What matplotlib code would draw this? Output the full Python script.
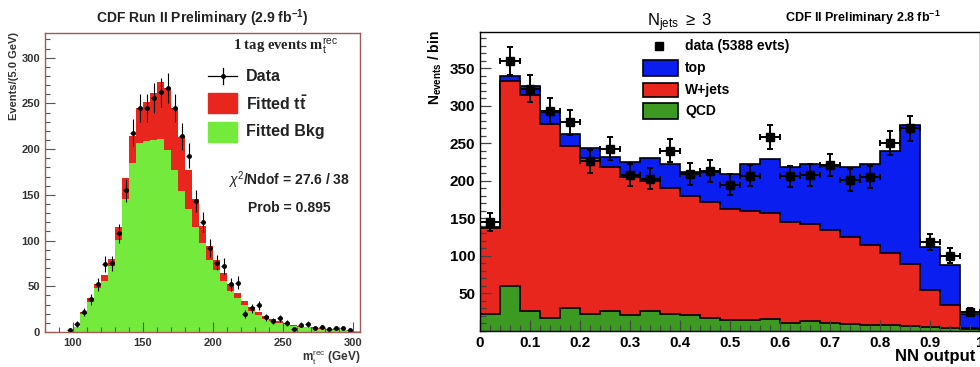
import numpy as np
import matplotlib
matplotlib.use('Agg')
import matplotlib.pyplot as plt
from matplotlib.patches import Rectangle
from matplotlib.lines import Line2D
from matplotlib.ticker import MultipleLocator

plt.rcParams['font.family'] = ['Liberation Sans', 'DejaVu Sans']
plt.rcParams['mathtext.fontset'] = 'custom'
plt.rcParams['mathtext.rm'] = 'Liberation Sans'
plt.rcParams['mathtext.it'] = 'Liberation Sans:italic'
plt.rcParams['mathtext.bf'] = 'Liberation Sans:bold'

# left panel: m_t^rec, 5 GeV bins starting at 95 GeV
mt_lo = 95
mt_total = [0.5, 6, 22, 37, 53, 62, 80, 115, 168, 214,
            245, 252, 261, 273, 267, 245, 213, 177, 145, 116,
            94, 79, 65, 52, 43, 34, 27, 22, 17, 14,
            12, 10, 8, 7, 6, 5, 4, 3.5, 3, 2.5,
            2, 1.5]
mt_bkg = [0.5, 5, 20, 33, 48, 56, 72, 101, 146, 185,
          207, 209, 210, 211, 199, 177, 154, 135, 115, 97,
          79, 68, 56, 45, 37, 29, 23, 19, 14.5, 12,
          10, 8.5, 7, 6, 5, 4.3, 3.5, 3, 2.6, 2.2,
          1.8, 1.3]
mt_data = [2, 9, 22, 36, 52, 74, 75, 108, 155, 218,
           245, 245, 256, 262, 267, 245, 214, 193, 143, 120,
           92, 76, 72, 52, 54, 20, 26, 29, 16, 12,
           15, 10, 3, 8, 9, 4, 5, 3, 4, 4,
           2, 0]

# right panel: NN output, 25 bins
nn_data = [145, 360, 323, 293, 278, 226, 243, 208, 203, 240, 209, 213, 195,
           207, 258, 206, 208, 221, 201, 205, 250, 270, 118, 100, 25]
nn_top = [138, 340, 327, 292, 262, 244, 232, 225, 231, 223, 212, 212, 209,
          222, 229, 219, 222, 220, 219, 223, 240, 274, 112, 88, 22]
nn_wjets = [137, 333, 315, 276, 246, 230, 218, 205, 200, 191, 180, 172, 163,
            160, 157, 145, 143, 135, 125, 114, 104, 89, 55, 34, 4]
nn_qcd = [22, 60, 27, 17, 30, 23, 26, 21, 26, 23, 21, 17, 15,
          15, 16, 11, 13, 11, 9, 8, 8, 6, 5, 4, 2]

fig = plt.figure(figsize=(9.8, 3.67), dpi=100)

# ---------------- left ----------------
axL = fig.add_axes([45/980, 35/367, 315/980, 299/367])
edges = np.arange(len(mt_total) + 1) * 5 + mt_lo
axL.stairs(mt_total, edges, fill=True, color='#e8261e', lw=0)
axL.stairs(mt_bkg, edges, fill=True, color='#74ea3c', lw=0)
d = np.array(mt_data, dtype=float)
c = edges[:-1] + 2.5
m = d > 0
axL.errorbar(c[m], d[m], yerr=np.sqrt(d[m]), xerr=1.5, fmt='o', ms=2.5,
             color='k', elinewidth=0.8, capsize=0)
axL.set_xlim(80, 305)
axL.set_ylim(0, 327)
axL.xaxis.set_major_locator(MultipleLocator(50))
axL.xaxis.set_minor_locator(MultipleLocator(10))
axL.yaxis.set_major_locator(MultipleLocator(50))
axL.yaxis.set_minor_locator(MultipleLocator(10))
axL.set_xticks([100, 150, 200, 250, 300])
axL.tick_params(which='both', direction='in', top=False, right=False,
                colors='#555555', labelcolor='#333333', labelsize=8, width=0.8)
axL.tick_params(which='major', length=7)
axL.tick_params(which='minor', length=3.5)
axL.tick_params(axis='x', pad=4)
for lab in axL.get_xticklabels() + axL.get_yticklabels():
    lab.set_fontweight('bold')
for s in axL.spines.values():
    s.set_color('#a05858')
    s.set_linewidth(1.0)

# legend of left panel
tL = axL.transAxes
axL.add_line(Line2D([0.517, 0.610], [0.856, 0.856], color='k', lw=0.9, transform=tL))
axL.add_line(Line2D([0.5635, 0.5635], [0.829, 0.883], color='k', lw=0.9, transform=tL))
axL.plot([0.5635], [0.856], 'o', ms=2.5, color='k', transform=tL)
axL.add_patch(Rectangle((0.517, 0.732), 0.093, 0.067, color='#e8261e', transform=tL))
axL.add_patch(Rectangle((0.517, 0.635), 0.093, 0.067, color='#74ea3c', transform=tL))
axL.text(0.638, 0.853, 'Data', transform=tL, fontsize=11.5, fontweight='bold',
         color='#222222', va='center')
axL.text(0.638, 0.763, r'Fitted t$\mathbf{\bar{t}}$', transform=tL, fontsize=11.5,
         fontweight='bold', color='#222222', va='center')
axL.text(0.638, 0.672, 'Fitted Bkg', transform=tL, fontsize=11.5, fontweight='bold',
         color='#222222', va='center')
axL.text(0.93, 0.955, r'1 tag events m$_{\mathrm{t}}^{\mathrm{rec}}$', transform=tL,
         fontsize=10.5, fontweight='bold', family='Liberation Serif', ha='right',
         va='center', color='#222222')
axL.text(0.775, 0.508, r'$\chi^2$/Ndof = 27.6 / 38', transform=tL, fontsize=10,
         fontweight='bold', ha='center', va='center', color='#222222')
axL.text(0.775, 0.415, 'Prob = 0.895', transform=tL, fontsize=10,
         fontweight='bold', ha='center', va='center', color='#222222')

fig.text(202/980, 1 - 18/367, r'CDF Run II Preliminary (2.9 fb$^{\mathbf{-1}}$)',
         fontsize=10, fontweight='bold', ha='center', va='center', color='#222222')
fig.text(14/980, 1 - 32/367, 'Events/(5.0 GeV)', rotation=90, fontsize=8,
         fontweight='bold', ha='center', va='top', color='#333333')
fig.text(360/980, 1 - 357/367, r'm$_{\mathrm{t}}^{\mathrm{rec}}$ (GeV)', fontsize=8.5,
         fontweight='bold', ha='right', va='center', color='#333333')

# ---------------- right ----------------
axR = fig.add_axes([480/980, 36.2/367, 500/980, 298.5/367])
nedges = np.linspace(0, 1, len(nn_data) + 1)
axR.stairs(nn_top, nedges, fill=True, facecolor='#0a1ef0', edgecolor='k', lw=1.2)
axR.stairs(nn_wjets, nedges, fill=True, facecolor='#e8261e', edgecolor='k', lw=1.2)
axR.stairs(nn_qcd, nedges, fill=True, facecolor='#3c9a22', edgecolor='k', lw=1.2)
nd = np.array(nn_data, dtype=float)
nc = nedges[:-1] + 0.02
axR.errorbar(nc, nd, yerr=np.sqrt(nd), xerr=0.02, fmt='s', ms=6, color='k',
             elinewidth=1.4, capsize=2, capthick=1.4)
axR.set_xlim(0, 1)
axR.set_ylim(0, 398)
axR.set_xticks(np.arange(0, 1.01, 0.1))
axR.set_xticklabels(['0', '0.1', '0.2', '0.3', '0.4', '0.5', '0.6', '0.7', '0.8', '0.9', '1'])
axR.set_yticks([50, 100, 150, 200, 250, 300, 350])
axR.xaxis.set_minor_locator(MultipleLocator(0.02))
axR.yaxis.set_minor_locator(MultipleLocator(10))
axR.tick_params(which='both', direction='in', top=False, right=False,
                labelsize=11, width=0.9, color='#444444')
axR.tick_params(which='major', length=8)
axR.tick_params(which='minor', length=4)
for lab in axR.get_xticklabels() + axR.get_yticklabels():
    lab.set_fontweight('bold')
for s in axR.spines.values():
    s.set_linewidth(1.0)

tR = axR.transAxes
axR.plot([0.358], [0.954], 's', ms=6, color='k', transform=tR)
axR.add_patch(Rectangle((0.326, 0.854), 0.07, 0.053, facecolor='#0a1ef0',
                        edgecolor='k', lw=1.2, transform=tR))
axR.add_patch(Rectangle((0.326, 0.783), 0.07, 0.047, facecolor='#e8261e',
                        edgecolor='k', lw=1.2, transform=tR))
axR.add_patch(Rectangle((0.326, 0.710), 0.07, 0.053, facecolor='#3c9a22',
                        edgecolor='k', lw=1.2, transform=tR))
for y, txt in [(0.954, 'data (5388 evts)'), (0.88, 'top'), (0.807, 'W+jets'), (0.736, 'QCD')]:
    axR.text(0.41, y, txt, transform=tR, fontsize=10, fontweight='bold', va='center')

fig.text(680/980, 1 - 23/367, r'N$_{\mathrm{jets}}$ $\geq$ 3', fontsize=12,
         ha='center', va='center')
fig.text(863/980, 1 - 18/367, r'CDF II Preliminary 2.8 fb$^{\mathbf{-1}}$', fontsize=9,
         fontweight='bold', ha='center', va='center')
fig.text(435/980, 1 - 30/367, r'$\mathbf{N_{events}}$ / bin', rotation=90, fontsize=10,
         fontweight='bold', ha='center', va='top')
fig.text(975/980, 1 - 357/367, 'NN output', fontsize=12, fontweight='bold',
         ha='right', va='center')

fig.savefig('out.png', dpi=100)
